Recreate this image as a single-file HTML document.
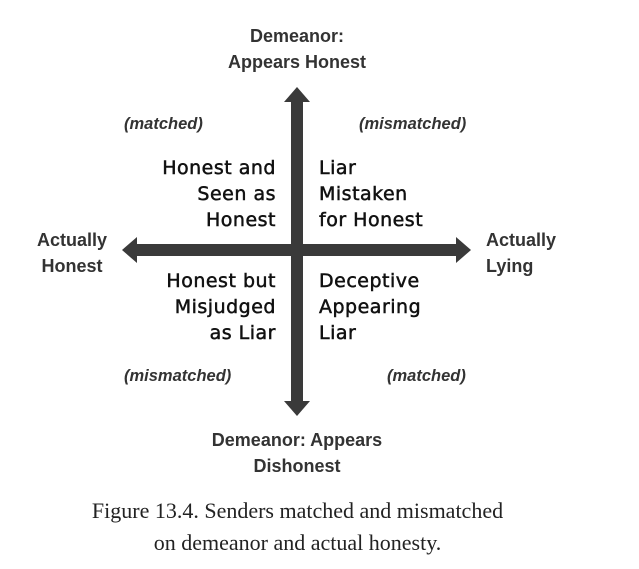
<!DOCTYPE html>
<html><head><style>
body{margin:0;width:639px;height:569px;background:#fff;position:relative;overflow:hidden;font-family:"Liberation Sans",sans-serif;color:#222}
.t{position:absolute;white-space:nowrap}
.b{font-weight:bold;font-size:18px;line-height:26px;color:#333}
.i{font-style:italic;font-weight:bold;font-size:16.5px;color:#333}
.q{font-family:"DejaVu Sans",sans-serif;font-size:19px;line-height:26px;color:#111;letter-spacing:0.5px;-webkit-text-stroke:0.5px #111}
.cap{font-family:"Liberation Serif",serif;font-size:22px;line-height:32px;text-align:center;width:639px;left:-22px;color:#222}
</style></head><body>
<svg width="639" height="569" style="position:absolute;left:0;top:0">
<g fill="#3a3a3a">
<rect x="291" y="100" width="12" height="303"/>
<polygon points="297,87 284,102 310,102"/>
<polygon points="297,416 284,401 310,401"/>
<rect x="135" y="244" width="324" height="12"/>
<polygon points="122,250 137,237 137,263"/>
<polygon points="471,250 456,237 456,263"/>
</g></svg>
<div class="t b" style="left:172px;top:23px;width:250px;text-align:center">Demeanor:<br>Appears Honest</div>
<div class="t b" style="left:172px;top:427px;width:250px;text-align:center">Demeanor: Appears<br>Dishonest</div>
<div class="t b" style="left:17px;top:227px;width:110px;text-align:center">Actually<br>Honest</div>
<div class="t b" style="left:486px;top:227px">Actually<br>Lying</div>
<div class="t i" style="left:124px;top:115px">(matched)</div>
<div class="t i" style="left:359px;top:115px">(mismatched)</div>
<div class="t i" style="left:124px;top:367px">(mismatched)</div>
<div class="t i" style="left:387px;top:367px">(matched)</div>
<div class="t q" style="right:363px;top:155px;text-align:right">Honest and<br>Seen as<br>Honest</div>
<div class="t q" style="left:319px;top:155px">Liar<br>Mistaken<br>for Honest</div>
<div class="t q" style="right:363px;top:268px;text-align:right">Honest but<br>Misjudged<br>as Liar</div>
<div class="t q" style="left:319px;top:268px">Deceptive<br>Appearing<br>Liar</div>
<div class="t cap" style="top:495px">Figure 13.4. Senders matched and mismatched<br>on demeanor and actual honesty.</div>
</body></html>
